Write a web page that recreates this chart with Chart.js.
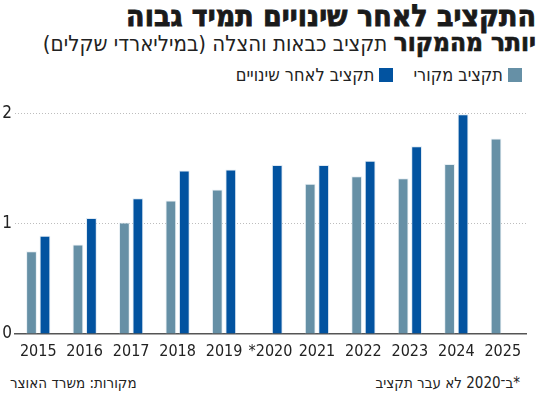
<!DOCTYPE html>
<html lang="he">
<head>
<meta charset="utf-8">
<script src="https://cdn.jsdelivr.net/npm/chart.js@4/dist/chart.umd.min.js"></script>
<style>
  body { margin: 0; width: 550px; height: 398px; background: #fff; position: relative; overflow: hidden;
         font-family: "DejaVu Sans Condensed", "DejaVu Sans", sans-serif; font-stretch: condensed; color: #222; }
  .t { position: absolute; direction: rtl; white-space: nowrap; }
  #title { right: 14px; top: -2px; font-size: 30px; font-weight: bold; color: #1a1a1a; -webkit-text-stroke: 0.8px #1a1a1a; }
  #sub { right: 14px; top: 27px; font-size: 22px; color: #222; }
  #sub b { font-size: 26px; color: #1a1a1a; -webkit-text-stroke: 0.7px #1a1a1a; }
  #legend { right: 28px; top: 64px; font-size: 18px; color: #222; }
  #legend span.box { display: inline-block; width: 14px; height: 14px; vertical-align: -1px; margin-left: 5px; }
  #legend .item { margin-left: 20px; }
  #srcL { left: 10px; top: 374px; font-size: 15px; }
  #srcR { right: 30px; top: 374px; font-size: 15px; }
  #wrap { position: absolute; left: 0; top: 100px; width: 550px; height: 265px; }
</style>
</head>
<body>
<div class="t" id="title">התקציב לאחר שינויים תמיד גבוה</div>
<div class="t" id="sub"><b>יותר מהמקור</b> תקציב כבאות והצלה (במיליארדי שקלים)</div>
<div class="t" id="legend"><span class="item"><span class="box" style="background:#6690a6"></span>תקציב מקורי</span><span class="item"><span class="box" style="background:#0253a0"></span>תקציב לאחר שינויים</span></div>
<div id="wrap"><canvas id="budgetChart"></canvas></div>
<div class="t" id="srcL">מקורות: משרד האוצר</div>
<div class="t" id="srcR">*ב־2020 לא עבר תקציב</div>

<script>
// data (billions of shekels)
const years = ['2015', '2016', '2017', '2018', '2019', '*2020', '2021', '2022', '2023', '2024', '2025'];
const originalBudget = [0.75, 0.81, 1.01, 1.21, 1.31, null, 1.36, 1.43, 1.41, 1.54, 1.77];
const revisedBudget = [0.89, 1.05, 1.23, 1.48, 1.49, 1.53, 1.53, 1.57, 1.70, 1.99, null];
const yTicks = [0, 1, 2];

const numFont = '"DejaVu Sans Condensed", "DejaVu Sans", sans-serif';

const ctx = document.getElementById('budgetChart').getContext('2d');
new Chart(ctx, {
  type: 'bar',
  data: {
    labels: years,
    datasets: [{
      label: 'תקציב מקורי',
      data: originalBudget,
      backgroundColor: '#6690a6',
      borderColor: 'rgba(215,228,236,0.6)',
      borderWidth: 1,
      categoryPercentage: 0.58,
      barPercentage: 0.8
    }, {
      label: 'תקציב לאחר שינויים',
      data: revisedBudget,
      backgroundColor: '#0253a0',
      borderColor: 'rgba(200,218,235,0.6)',
      borderWidth: 1,
      categoryPercentage: 0.58,
      barPercentage: 0.8
    }]
  },
  options: {
    responsive: true,
    maintainAspectRatio: false,
    animation: false,
    layout: { padding: { top: 10, right: 24, left: 0, bottom: 0 } },
    plugins: {
      legend: { display: false },
      tooltip: { enabled: false }
    },
    scales: {
      x: {
        grid: { display: false, drawTicks: false },
        border: { display: true, color: '#555', width: 1.5 },
        ticks: { color: '#222', padding: 8, maxRotation: 0, minRotation: 0, autoSkip: false,
                 font: { family: numFont, size: 16 } },
        afterFit: function(scale) { scale.height = 31; }
      },
      y: {
        min: 0,
        max: 2,
        afterBuildTicks: function(scale) { scale.ticks = yTicks.map(v => ({ value: v })); },
        grid: {
          drawTicks: false,
          color: function(c) { return c.tick && c.tick.value === 0 ? 'rgba(0,0,0,0)' : '#bdbdbd'; },
          lineWidth: 1
        },
        border: { display: false, dash: [1, 2] },
        ticks: { color: '#222', padding: 3, font: { family: numFont, size: 17 } },
        afterFit: function(scale) { scale.width = 15; }
      }
    }
  }
});
</script>
</body>
</html>
